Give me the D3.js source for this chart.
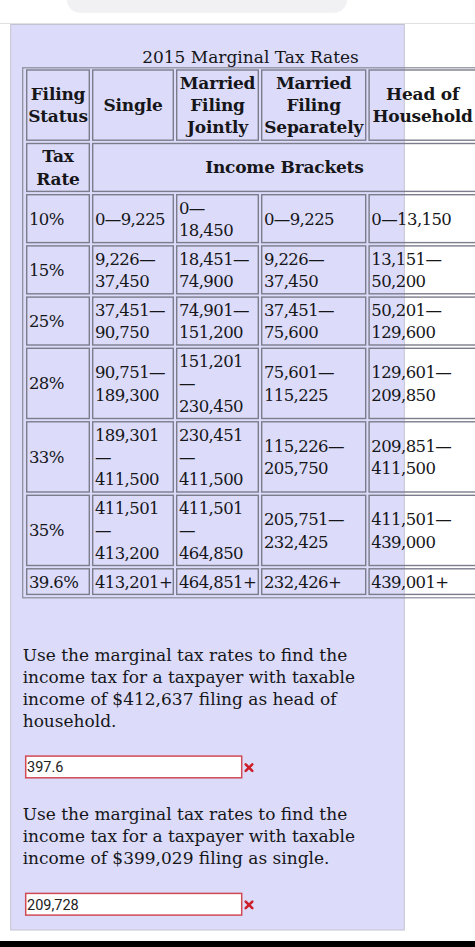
<!DOCTYPE html>
<html><head><meta charset="utf-8">
<script src="https://cdn.jsdelivr.net/npm/d3@7"></script>
<style>html,body{margin:0;padding:0;background:#fff;overflow:hidden}</style>
</head><body><svg id="c" width="475" height="947"></svg>
<script>
// ---------- data ----------
const title = "2015 Marginal Tax Rates";
const cornerLabel = ["Filing", "Status"];
const filingStatuses = [["Single"], ["Married", "Filing", "Jointly"], ["Married", "Filing", "Separately"], ["Head of", "Household"]];
const rateLabel = ["Tax", "Rate"];
const spanLabel = "Income Brackets";
const taxRates = ["10%", "15%", "25%", "28%", "33%", "35%", "39.6%"];
const single = ["0—9,225", "9,226—37,450", "37,451—90,750", "90,751—189,300", "189,301—411,500", "411,501—413,200", "413,201+"];
const marriedJointly = ["0—18,450", "18,451—74,900", "74,901—151,200", "151,201—230,450", "230,451—411,500", "411,501—464,850", "464,851+"];
const marriedSeparately = ["0—9,225", "9,226—37,450", "37,451—75,600", "75,601—115,225", "115,226—205,750", "205,751—232,425", "232,426+"];
const headOfHousehold = ["0—13,150", "13,151—50,200", "50,201—129,600", "129,601—209,850", "209,851—411,500", "411,501—439,000", "439,001+"];
const question1 = ["Use the marginal tax rates to find the", "income tax for a taxpayer with taxable", "income of $412,637 filing as head of", "household."];
const answer1 = "397.6";
const question2 = ["Use the marginal tax rates to find the", "income tax for a taxpayer with taxable", "income of $399,029 filing as single."];
const answer2 = "209,728";

// ---------- layout ----------
const W = 475, H = 947;
const FONT = "'DejaVu Serif', 'Liberation Serif', serif";
const FS = 16.5, LS = -0.6;          // table body numbers
const FSH = 17, LSH = -0.2;          // bold headers
const FSP = 17, LSP = 0;             // title and prose
const LINE = 22.3, PADV = 3.3, GAP = 3.3;
const colW = [62.6, 80.6, 81.6, 104, 107];
const tableX = 26.7, tableY = 70;
const colX = colW.map((w, i) => tableX + d3.sum(colW.slice(0, i)) + 3.4 * i);
const textCol = "#161619", borderCol = "#7c7c8c";

const svg = d3.select("#c");

// page chrome
svg.append("rect").attr("x", 0).attr("y", 0).attr("width", W).attr("height", H).attr("fill", "#fff");
svg.append("rect").attr("x", 67).attr("y", -20).attr("width", 280).attr("height", 32.7).attr("rx", 13).attr("fill", "#f1f1f4");
svg.append("line").attr("x1", 0).attr("x2", W).attr("y1", 23.5).attr("y2", 23.5).attr("stroke", "#e0e0e0").attr("stroke-width", 1);
svg.append("rect").attr("x", 10.7).attr("y", 24.5).attr("width", 393.6).attr("height", 905.5)
  .attr("fill", "#dcdcfa").attr("stroke", "#c2c2d2").attr("stroke-width", 1);
svg.append("rect").attr("x", 0).attr("y", 941).attr("width", W).attr("height", 6).attr("fill", "#000");

// measurement helper
const meas = svg.append("text").attr("font-family", FONT).attr("font-size", FS).attr("letter-spacing", LS)
  .attr("visibility", "hidden");
function width(s) {
  meas.text(s);
  return meas.node().getComputedTextLength();
}
function wrapBracket(s, avail) {
  const toks = s.split(/(—)/).filter(t => t.length);
  const lines = [];
  let cur = "";
  toks.forEach(t => {
    if (cur === "") cur = t;
    else if (width(cur + t) <= avail) cur += t;
    else { lines.push(cur); cur = t; }
  });
  if (cur) lines.push(cur);
  return lines;
}
const rowH = n => n * LINE + PADV;

// build rows
const seriesCols = [single, marriedJointly, marriedSeparately, headOfHousehold];
const rows = [];
rows.push({cells: [{c: 0, span: 1, lines: cornerLabel, bold: true, align: "middle"}]
  .concat(filingStatuses.map((l, i) => ({c: i + 1, span: 1, lines: l, bold: true, align: "middle"})))});
rows.push({cells: [{c: 0, span: 1, lines: rateLabel, bold: true, align: "middle"},
  {c: 1, span: 4, lines: [spanLabel], bold: true, align: "middle"}]});
taxRates.forEach((r, ri) => {
  const cells = [{c: 0, span: 1, lines: [r], bold: false, align: "start"}];
  seriesCols.forEach((arr, si) => {
    cells.push({c: si + 1, span: 1, lines: wrapBracket(arr[ri], colW[si + 1] - 5), bold: false, align: "start"});
  });
  rows.push({cells});
});
let yy = tableY;
rows.forEach(r => {
  r.n = d3.max(r.cells, c => c.lines.length);
  r.y = yy; r.h = rowH(r.n);
  yy += r.h + GAP;
});
const tableBottom = yy - GAP;

// title
svg.append("text").attr("x", 250.5).attr("y", 62.7).attr("text-anchor", "middle")
  .attr("font-family", FONT).attr("font-size", FSP).attr("letter-spacing", LSP).attr("fill", textCol).text(title);

// outer table border
svg.append("rect").attr("x", 22.7).attr("y", tableY - 2.2).attr("width", 480).attr("height", tableBottom + 3.4 - (tableY - 2.2))
  .attr("fill", "none").attr("stroke", "#8a8a98").attr("stroke-width", 1.2);

const g = svg.append("g");
rows.forEach(r => {
  r.cells.forEach(c => {
    const x = colX[c.c];
    const w = c.span === 1 ? colW[c.c] : (colX[c.c + c.span - 1] + colW[c.c + c.span - 1] - x);
    g.append("rect").attr("x", x).attr("y", r.y).attr("width", w).attr("height", r.h)
      .attr("fill", "none").attr("stroke", borderCol).attr("stroke-width", 1.4);
    const start = r.y + (r.h - c.lines.length * LINE) / 2;
    const t = g.append("text").attr("font-family", FONT)
      .attr("font-size", c.bold ? FSH : FS).attr("letter-spacing", c.bold ? LSH : LS)
      .attr("font-weight", c.bold ? "bold" : "normal").attr("fill", textCol)
      .attr("text-anchor", c.align);
    c.lines.forEach((ln, i) => {
      t.append("tspan").attr("x", c.align === "middle" ? x + w / 2 : x + 2.2)
        .attr("y", start + LINE * (i + 0.5) + 6).text(ln);
    });
  });
});

// questions
function question(lines, answer, y0) {
  const t = svg.append("text").attr("font-family", FONT).attr("font-size", FSP).attr("letter-spacing", LSP).attr("fill", textCol);
  lines.forEach((ln, i) => t.append("tspan").attr("x", 22.7).attr("y", y0 + i * 22).text(ln));
  const by = y0 + (lines.length - 1) * 22 + 29;
  svg.append("rect").attr("x", 25.7).attr("y", by).attr("width", 216).attr("height", 21.7)
    .attr("fill", "#fff").attr("stroke", "#d04a55").attr("stroke-width", 1.5);
  svg.append("text").attr("x", 27).attr("y", by + 16.3).attr("font-family", "Roboto, sans-serif").attr("font-size", 14.5)
    .attr("fill", "#222").text(answer);
  // red cross mark
  const cx = 249, cy = by + 11.5, r = 3.3;
  const p = d3.path();
  p.moveTo(cx - r, cy - r); p.lineTo(cx + r, cy + r);
  p.moveTo(cx + r, cy - r); p.lineTo(cx - r, cy + r);
  svg.append("path").attr("d", p.toString()).attr("stroke", "#cc1f2a").attr("stroke-width", 2.6)
    .attr("stroke-linecap", "round").attr("fill", "none");
  return by + 21.7;
}
const b1 = question(question1, answer1, tableBottom + 3.4 + 63.3);
question(question2, answer2, b1 + 42.6);
</script></body></html>
